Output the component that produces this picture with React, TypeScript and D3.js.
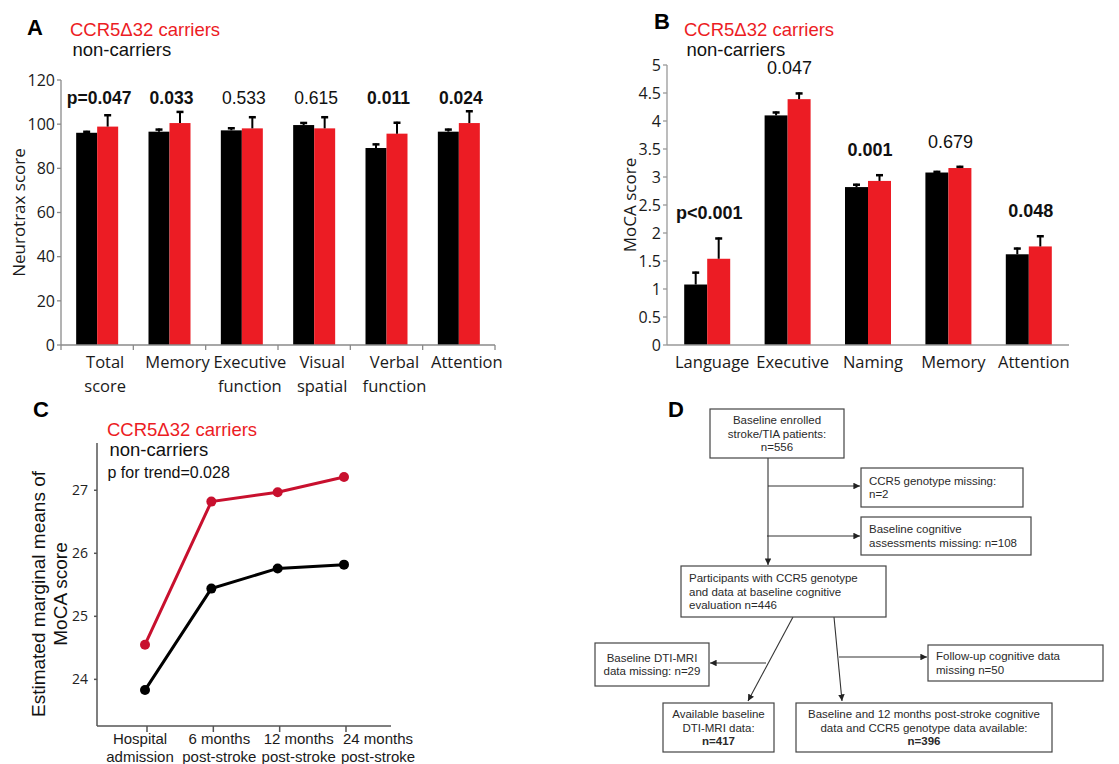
import React from "react";
import * as d3 from "d3";

const W = 1119;
const H = 764;
const ARIAL = "'Liberation Sans', Arial, sans-serif";
const OPEN = "'Open Sans', sans-serif";
const RED = "#ec1c24";
const DARK_RED = "#c8102e";

// Panel A: Neurotrax scores
const neuroCats = [["Total", "score"], ["Memory"], ["Executive", "function"], ["Visual", "spatial"], ["Verbal", "function"], ["Attention"]];
const neuroNon = [96.1, 96.6, 97.2, 99.6, 89.2, 96.6];
const neuroNonSe = [0.9, 1.4, 1.4, 1.4, 2.1, 1.4];
const neuroCar = [98.9, 100.5, 98.1, 98.1, 95.7, 100.5];
const neuroCarSe = [5.6, 5.5, 5.5, 5.5, 5.4, 5.8];
const neuroP = ["p=0.047", "0.033", "0.533", "0.615", "0.011", "0.024"];
const neuroPBold = [true, true, false, false, true, true];
const neuroTicks = [0, 20, 40, 60, 80, 100, 120];

// Panel B: MoCA domain scores
const mocaCats = [["Language"], ["Executive"], ["Naming"], ["Memory"], ["Attention"]];
const mocaNon = [1.08, 4.1, 2.82, 3.08, 1.62];
const mocaNonSe = [0.23, 0.07, 0.06, 0.03, 0.12];
const mocaCar = [1.54, 4.39, 2.93, 3.16, 1.76];
const mocaCarSe = [0.38, 0.12, 0.12, 0.04, 0.2];
const mocaP = ["p<0.001", "0.047", "0.001", "0.679", "0.048"];
const mocaPBold = [true, false, true, false, true];
const mocaTicks = [0, 0.5, 1, 1.5, 2, 2.5, 3, 3.5, 4, 4.5, 5];

// Panel C: MoCA over time
const timeLabels = [["Hospital", "admission"], ["6 months", "post-stroke"], ["12 months", "post-stroke"], ["24 months", "post-stroke"]];
const trendCar = [24.55, 26.82, 26.97, 27.21];
const trendNon = [23.83, 25.44, 25.76, 25.82];
const trendTicks = [24, 25, 26, 27];

// Panel D: flowchart
const flowText = [
  ["Baseline enrolled", "stroke/TIA patients:", "n=556"],
  ["CCR5 genotype missing:", "n=2"],
  ["Baseline cognitive", "assessments missing: n=108"],
  ["Participants with CCR5 genotype", "and data at baseline cognitive", "evaluation n=446"],
  ["Baseline DTI-MRI", "data missing: n=29"],
  ["Follow-up cognitive data", "missing n=50"],
  ["Available baseline", "DTI-MRI data:", "n=417"],
  ["Baseline and 12 months post-stroke cognitive", "data and CCR5 genotype data available:", "n=396"],
];
const flowBoldLast = [false, false, false, false, false, false, true, true];
const flowAlign = ["middle", "start", "start", "start", "middle", "start", "middle", "middle"];
// layout boxes: x, y, w, h
const flowBoxes = [
  [710, 409, 134, 49],
  [861, 468, 162, 39],
  [861, 517, 170, 38],
  [681, 566, 205, 51],
  [595, 643, 114, 43],
  [928, 645, 175, 36],
  [663, 703, 111, 49],
  [796, 703, 256, 49],
];
// arrows: from, to
const flowArrows = [
  [[768, 458], [768, 565]],
  [[768, 486], [860, 486]],
  [[767, 536], [860, 536]],
  [[793, 617], [748, 701]],
  [[834, 617], [842, 701]],
  [[766, 663], [710, 663]],
  [[839, 657], [927, 657]],
];

function Legend({ letter, lx, ly, tx, ty, extra }) {
  return (
    <g>
      <text x={lx} y={ly} fontFamily={ARIAL} fontWeight="bold" fontSize={22}>{letter}</text>
      <text x={tx} y={ty} fontFamily={ARIAL} fontSize={18.5} fill={RED}>CCR5Δ32 carriers</text>
      <text x={tx + 2.5} y={ty + 19.5} fontFamily={ARIAL} fontSize={18.5} fill="#111">non-carriers</text>
      {extra}
    </g>
  );
}

function BarPanel({ cats, non, nonSe, car, carSe, pvals, pBold, domain, ticks, left, right, top, bottom, groupW, pY, pSize, title, titleX, labelDx, xTicks, axisColor }) {
  const x = d3.scaleBand().domain(cats.map((_, i) => String(i))).range([left, right]);
  const y = d3.scaleLinear().domain(domain).range([bottom, top]);
  const inner = d3.scaleBand().domain(["non", "car"]).range([0, groupW]);
  const off = (x.bandwidth() - groupW) / 2;
  const fmt = d3.format("~g");
  const errBar = (cx, v, se, key) => (
    <g key={key} stroke="#000" strokeWidth={2}>
      <line x1={cx} x2={cx} y1={y(v)} y2={y(v + se)} />
      <line x1={cx - 3.5} x2={cx + 3.5} y1={y(v + se) + 1} y2={y(v + se) + 1} strokeWidth={2.5} />
    </g>
  );
  return (
    <g>
      {cats.map((c, i) => {
        const gx = x(String(i)) + off;
        const xn = gx + inner("non");
        const xc = gx + inner("car");
        const bw = inner.bandwidth();
        return (
          <g key={i}>
            <rect x={xn} y={y(non[i])} width={bw} height={y(0) - y(non[i])} fill="#000" />
            <rect x={xc} y={y(car[i])} width={bw} height={y(0) - y(car[i])} fill={RED} />
            {errBar(xn + bw / 2, non[i], nonSe[i], "n")}
            {errBar(xc + bw / 2, car[i], carSe[i], "c")}
            <text x={gx + groupW / 2 + 2} y={pY(i, y)} textAnchor="middle" fontFamily={ARIAL} fontSize={pSize} fontWeight={pBold[i] ? "bold" : "normal"} fill="#111">{pvals[i]}</text>
            <text y={368} textAnchor="middle" fontFamily={OPEN} fontSize={16.5} fill="#1a1a1a">
              {c.map((ln, j) => (
                <tspan key={j} x={x(String(i)) + x.bandwidth() / 2 + labelDx} dy={j === 0 ? 0 : 23.5}>{ln}</tspan>
              ))}
            </text>
          </g>
        );
      })}
      <g stroke={axisColor} strokeWidth={1.3} fill="none">
        <line x1={left} x2={left} y1={top} y2={xTicks ? bottom + 5 : bottom} />
        <line x1={left} x2={right} y1={bottom} y2={bottom} />
        {ticks.map((t) => (
          <line key={t} x1={left - 4} x2={left} y1={y(t)} y2={y(t)} />
        ))}
        {xTicks && cats.map((_, i) => (
          <line key={i} x1={x(String(i)) + x.bandwidth()} x2={x(String(i)) + x.bandwidth()} y1={bottom} y2={bottom + 5} />
        ))}
      </g>
      {ticks.map((t) => (
        <text key={t} x={left - 6} y={y(t)} dy="0.36em" textAnchor="end" fontFamily={OPEN} fontSize={16} fill="#1a1a1a">{fmt(t)}</text>
      ))}
      <text transform={`translate(${titleX},${(top + bottom) / 2}) rotate(-90)`} textAnchor="middle" fontFamily={OPEN} fontSize={17} fill="#1a1a1a">{title}</text>
    </g>
  );
}

function TrendPanel() {
  const idx = timeLabels.map((_, i) => String(i));
  const x = d3.scalePoint().domain(idx).range([145, 344]);
  const xl = d3.scalePoint().domain(idx).range([140, 378]);
  const y = d3.scaleLinear().domain([23.26, 27.75]).range([726, 443]);
  const line = d3.line().x((d, i) => x(String(i))).y((d) => y(d));
  const series = [
    { vals: trendCar, color: DARK_RED },
    { vals: trendNon, color: "#000" },
  ];
  return (
    <g>
      <g stroke="#555" strokeWidth={1.5} fill="none">
        <line x1={97} x2={97} y1={y(27.75)} y2={y(23.26)} />
        <line x1={97} x2={391} y1={726} y2={726} />
        {trendTicks.map((t) => (
          <line key={t} x1={94} x2={97} y1={y(t)} y2={y(t)} />
        ))}
        {idx.map((k) => (
          <line key={k} x1={x(k) + 2} x2={x(k) + 2} y1={726} y2={732} />
        ))}
      </g>
      {trendTicks.map((t) => (
        <text key={t} x={88} y={y(t)} dy="0.36em" textAnchor="end" fontFamily={OPEN} fontSize={14} fill="#222">{t}</text>
      ))}
      {series.map((s, si) => (
        <g key={si}>
          <path d={line(s.vals)} fill="none" stroke={s.color} strokeWidth={3} />
          {s.vals.map((v, i) => (
            <circle key={i} cx={x(String(i))} cy={y(v)} r={5} fill={s.color} />
          ))}
        </g>
      ))}
      {timeLabels.map((lab, i) => (
        <text key={i} y={743.5} textAnchor="middle" fontFamily={ARIAL} fontSize={15} fill="#1a1a1a">
          {lab.map((ln, j) => (
            <tspan key={j} x={xl(String(i))} dy={j === 0 ? 0 : 18.5}>{ln}</tspan>
          ))}
        </text>
      ))}
      <text transform="translate(0,594) rotate(-90)" textAnchor="middle" fontFamily={ARIAL} fontSize={19} fill="#111">
        <tspan x={0} y={45}>Estimated marginal means of</tspan>
        <tspan x={0} y={66.5}>MoCA score</tspan>
      </text>
    </g>
  );
}

function FlowPanel() {
  return (
    <g>
      <defs>
        <marker id="arr" viewBox="0 0 10 10" refX="10" refY="5" markerWidth="6" markerHeight="6" orient="auto">
          <path d="M0,0 L10,5 L0,10 Z" fill="#222" />
        </marker>
      </defs>
      {flowArrows.map(([a, b], i) => (
        <line key={i} x1={a[0]} y1={a[1]} x2={b[0]} y2={b[1]} stroke="#333" strokeWidth={1.1} markerEnd="url(#arr)" />
      ))}
      {flowBoxes.map(([bx, by, bw, bh], i) => {
        const lines = flowText[i];
        const anchor = flowAlign[i];
        const tx = anchor === "middle" ? bx + bw / 2 : bx + 8;
        const lh = 13.6;
        const y0 = by + bh / 2 - ((lines.length - 1) * lh) / 2 + 4;
        return (
          <g key={i}>
            <rect x={bx} y={by} width={bw} height={bh} fill="#fff" stroke="#444" strokeWidth={1.2} />
            <text textAnchor={anchor} fontFamily={ARIAL} fontSize={11.5} fill="#2a2a2a">
              {lines.map((ln, j) => (
                <tspan key={j} x={tx} y={y0 + j * lh} fontWeight={flowBoldLast[i] && j === lines.length - 1 ? "bold" : "normal"}>{ln}</tspan>
              ))}
            </text>
          </g>
        );
      })}
      <text x={668} y={417} fontFamily={ARIAL} fontWeight="bold" fontSize={22}>D</text>
    </g>
  );
}

export default function App() {
  return (
    <svg width={W} height={H} style={{ position: "absolute", left: 0, top: 0, background: "#fff" }}>
      <rect width={W} height={H} fill="#fff" />
      <Legend letter="A" lx={27} ly={35} tx={70} ty={36} />
      <BarPanel
        cats={neuroCats} non={neuroNon} nonSe={neuroNonSe} car={neuroCar} carSe={neuroCarSe}
        pvals={neuroP} pBold={neuroPBold} domain={[0, 120]} ticks={neuroTicks}
        left={61} right={495} top={80} bottom={345} groupW={42}
        pY={(i, y) => y(109)} pSize={17.5} title="Neurotrax score" titleX={25} labelDx={8}
        xTicks={true} axisColor="#8a8a8a"
      />
      <Legend letter="B" lx={654} ly={29} tx={684} ty={36} />
      <BarPanel
        cats={mocaCats} non={mocaNon} nonSe={mocaNonSe} car={mocaCar} carSe={mocaCarSe}
        pvals={mocaP} pBold={mocaPBold} domain={[0, 5]} ticks={mocaTicks}
        left={667} right={1069} top={65} bottom={345} groupW={46}
        pY={(i, y) => y(Math.max(mocaNon[i] + mocaNonSe[i], mocaCar[i] + mocaCarSe[i])) - 18}
        pSize={18} title="MoCA score" titleX={636} labelDx={5}
        xTicks={false} axisColor="#999"
      />
      <Legend letter="C" lx={33} ly={417} tx={107} ty={436}
        extra={<text x={107.5} y={477.5} fontFamily={ARIAL} fontSize={16} fill="#111">p for trend=0.028</text>} />
      <TrendPanel />
      <FlowPanel />
    </svg>
  );
}
